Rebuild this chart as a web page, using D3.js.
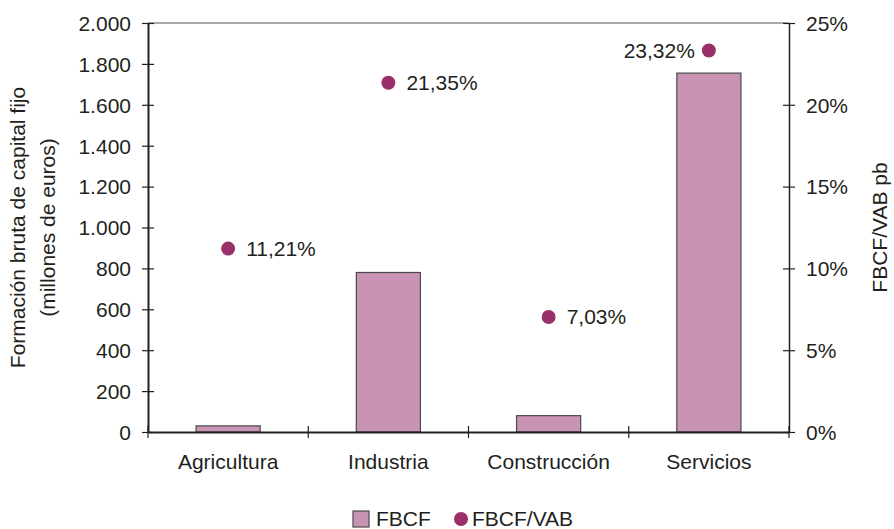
<!DOCTYPE html>
<html><head><meta charset="utf-8">
<script src="https://d3js.org/d3.v7.min.js"></script>
<style>body{margin:0;background:#fff}svg{display:block}text{font-family:"Liberation Sans",Arial,sans-serif;fill:#231f20}</style>
</head><body><svg id="c" width="894" height="529"></svg>
<script>
const categories = ["Agricultura","Industria","Construcción","Servicios"];
const fbcf = [30, 780, 80, 1755];
const ratio = [11.21, 21.35, 7.03, 23.32];
const ratioLabels = ["11,21%","21,35%","7,03%","23,32%"];
const leftTicks = [0,200,400,600,800,1000,1200,1400,1600,1800,2000];
const rightTicks = [0,5,10,15,20,25];

const FS = 21;
const svg = d3.select("#c");
const L=148, R=789, T=23, B=432;
const x = d3.scaleBand().domain(categories).range([L,R]);
const y = d3.scaleLinear().domain([0,2000]).range([B,T]);
const y2 = d3.scaleLinear().domain([0,25]).range([B,T]);
const fmt = v => d3.format(",")(v).replace(/,/g,".");

// top border
svg.append("line").attr("x1",L).attr("x2",R).attr("y1",T).attr("y2",T).attr("stroke","#555").attr("stroke-width",1.2);

// bars
svg.selectAll("rect.bar").data(categories).enter().append("rect")
  .attr("x",(d)=>x(d)+x.bandwidth()*0.3).attr("width",x.bandwidth()*0.4)
  .attr("y",(d,i)=>y(fbcf[i])).attr("height",(d,i)=>B-y(fbcf[i]))
  .attr("fill","#c994b3").attr("stroke","#4a4a4a").attr("stroke-width",1.2);

// left axis
const gl = svg.append("g").attr("transform",`translate(${L},0)`)
  .call(d3.axisLeft(y).tickValues(leftTicks).tickFormat(fmt).tickSizeInner(6).tickSizeOuter(0).tickPadding(11));
gl.select(".domain").attr("stroke","#231f20").attr("stroke-width",2);
gl.selectAll(".tick line").attr("x2",6).attr("x1",-6).attr("stroke","#231f20").attr("stroke-width",1.2);
gl.selectAll(".tick text").attr("font-size",FS).attr("dy","0.35em").style("font-family","'Liberation Sans',Arial,sans-serif").attr("fill","#231f20");

// right axis
const gr = svg.append("g").attr("transform",`translate(${R},0)`)
  .call(d3.axisRight(y2).tickValues(rightTicks).tickFormat(d=>d+"%").tickSizeInner(6).tickSizeOuter(0).tickPadding(11));
gr.select(".domain").attr("stroke","#231f20").attr("stroke-width",1.5);
gr.selectAll(".tick line").attr("x1",-6).attr("x2",6).attr("stroke","#231f20").attr("stroke-width",1.2);
gr.selectAll(".tick text").attr("font-size",FS).attr("dy","0.35em").style("font-family","'Liberation Sans',Arial,sans-serif").attr("fill","#231f20");

// bottom axis
const gb = svg.append("g").attr("transform",`translate(0,${B})`)
  .call(d3.axisBottom(x).tickSize(0).tickPadding(22));
gb.select(".domain").attr("stroke","#231f20").attr("stroke-width",2);
gb.selectAll(".tick text").attr("font-size",FS).style("font-family","'Liberation Sans',Arial,sans-serif").attr("fill","#231f20");
const bounds = [...categories.map(c=>x(c)), R];
gb.selectAll("line.sep").data(bounds).enter().append("line")
  .attr("x1",d=>d).attr("x2",d=>d).attr("y1",-6).attr("y2",6).attr("stroke","#231f20").attr("stroke-width",1.2);

// dots
const cx = d => x(d)+x.bandwidth()/2;
svg.selectAll("circle.pt").data(categories).enter().append("circle")
  .attr("cx",cx).attr("cy",(d,i)=>y2(ratio[i])).attr("r",7).attr("fill","#9b2f6a");
svg.selectAll("text.pl").data(categories).enter().append("text")
  .attr("x",(d,i)=> i===3 ? cx(d)-14 : cx(d)+18)
  .attr("y",(d,i)=>y2(ratio[i]))
  .attr("dy","0.35em").attr("text-anchor",(d,i)=> i===3?"end":"start")
  .attr("font-size",FS).text((d,i)=>ratioLabels[i]);

// axis titles
const midY=(T+B)/2;
svg.append("text").attr("transform",`translate(25,${midY}) rotate(-90)`).attr("text-anchor","middle").attr("font-size",FS).text("Formación bruta de capital fijo");
svg.append("text").attr("transform",`translate(55,${midY}) rotate(-90)`).attr("text-anchor","middle").attr("font-size",FS).text("(millones de euros)");
svg.append("text").attr("transform",`translate(887,${midY}) rotate(-90)`).attr("text-anchor","middle").attr("font-size",FS).text("FBCF/VAB pb");

// legend
const lg = svg.append("g");
lg.append("rect").attr("x",353).attr("y",511).attr("width",16).attr("height",16).attr("fill","#c994b3").attr("stroke","#4a4a4a").attr("stroke-width",1.2);
lg.append("text").attr("x",376).attr("y",519).attr("dy","0.35em").attr("font-size",FS).text("FBCF");
lg.append("circle").attr("cx",461).attr("cy",519).attr("r",7).attr("fill","#9b2f6a");
lg.append("text").attr("x",472).attr("y",519).attr("dy","0.35em").attr("font-size",FS).text("FBCF/VAB");
</script></body></html>
